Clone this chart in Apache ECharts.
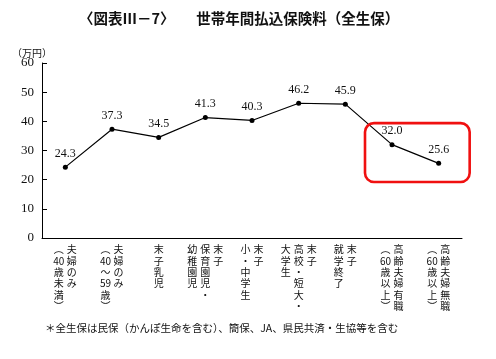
<!DOCTYPE html>
<html><head><meta charset="utf-8">
<script src="https://cdn.jsdelivr.net/npm/echarts@6/dist/echarts.min.js"></script>
<style>html,body{margin:0;padding:0;background:#fff}#c{width:496px;height:359px}</style>
</head><body><div id="c"></div>
<script>
// Categories: each is a list of vertical columns, read right-to-left (first column = rightmost)
const categories = [
  ['夫婦のみ', '︵40歳未満︶'],
  ['夫婦のみ', '︵40～59歳︶'],
  ['末子乳児'],
  ['末子', '保育園児・', '幼稚園児'],
  ['末子', '小・中学生'],
  ['末子', '高校・短大・', '大学生'],
  ['末子', '就学終了'],
  ['高齢夫婦有職', '︵60歳以上︶'],
  ['高齢夫婦無職', '︵60歳以上︶']
];
const values = [24.3, 37.3, 34.5, 41.3, 40.3, 46.2, 45.9, 32.0, 25.6];
const yTicks = [0, 10, 20, 30, 40, 50, 60];
const titleText = '〈図表Ⅲ－7〉　　世帯年間払込保険料（全生保）';
const unitText = '（万円）';
const noteText = '＊全生保は民保（かんぽ生命を含む）、簡保、JA、県民共済・生協等を含む';

const JP = '"Noto Sans CJK JP", sans-serif';
const SERIF = '"Liberation Serif", "DejaVu Serif", serif';

function tokens(s) { return s.match(/\d+|./gu) || []; }
function verticalLabel(idx) {
  const cols = categories[idx].map(tokens);
  const rows = Math.max(...cols.map(c => c.length));
  const lines = [];
  for (let r = 0; r < rows; r++) {
    let line = '';
    for (let c = cols.length - 1; c >= 0; c--) {
      const t = cols[c][r] || '　';
      line += '{c|' + t + '}';
    }
    lines.push(line);
  }
  return lines.join('\n');
}

const chart = echarts.init(document.getElementById('c'));
chart.setOption({
  animation: false,
  backgroundColor: '#fff',
  title: [
    { text: titleText, left: 74, top: 6,
      textStyle: { fontFamily: JP, fontSize: 14.5, fontWeight: 'bold', color: '#111' } },
    { text: noteText, left: 40, top: 318,
      textStyle: { fontFamily: JP, fontSize: 10.5, fontWeight: 'normal', color: '#111' } },
    { text: unitText, left: 7, top: 43,
      textStyle: { fontFamily: JP, fontSize: 10, fontWeight: 'normal', color: '#111' } }
  ],
  grid: { left: 42, right: 34, top: 63, bottom: 121 },
  xAxis: {
    type: 'category',
    data: categories.map((c, i) => String(i)),
    boundaryGap: true,
    axisLine: { lineStyle: { color: '#000', width: 1 } },
    axisTick: { inside: true, length: 5, alignWithLabel: true, lineStyle: { color: '#000' } },
    axisLabel: {
      interval: 0, margin: 6, verticalAlign: 'top',
      formatter: (v, i) => verticalLabel(i),
      rich: { c: { fontFamily: JP, fontSize: 10, width: 13, align: 'center', lineHeight: 11.3, color: '#111' } }
    }
  },
  yAxis: {
    type: 'value', min: yTicks[0], max: yTicks[yTicks.length - 1], interval: 10,
    axisLine: { show: true, lineStyle: { color: '#000', width: 1 } },
    axisTick: { show: true, inside: true, length: 5, lineStyle: { color: '#000' } },
    splitLine: { show: false },
    axisLabel: { margin: 8, fontFamily: SERIF, fontSize: 13, color: '#111' }
  },
  series: [{
    type: 'line',
    data: values,
    symbol: 'circle', symbolSize: 5,
    itemStyle: { color: '#000' },
    lineStyle: { color: '#000', width: 1.2 },
    label: { show: true, position: 'top', distance: 5, fontFamily: SERIF, fontSize: 12, color: '#111',
      formatter: p => p.value.toFixed(1) }
  }]
});

// Red highlight annotation around the last two categories
const p1 = chart.convertToPixel({ gridIndex: 0 }, [7, 39.4]);
const p2 = chart.convertToPixel({ gridIndex: 0 }, [8, 19.2]);
const x0 = p1[0] - 27, x1 = p2[0] + 31;
chart.setOption({
  graphic: [{
    type: 'rect', z: 100,
    shape: { x: x0, y: p1[1], width: x1 - x0, height: p2[1] - p1[1], r: 9 },
    style: { fill: 'none', stroke: '#f01010', lineWidth: 2.6 }
  }]
});
</script></body></html>
